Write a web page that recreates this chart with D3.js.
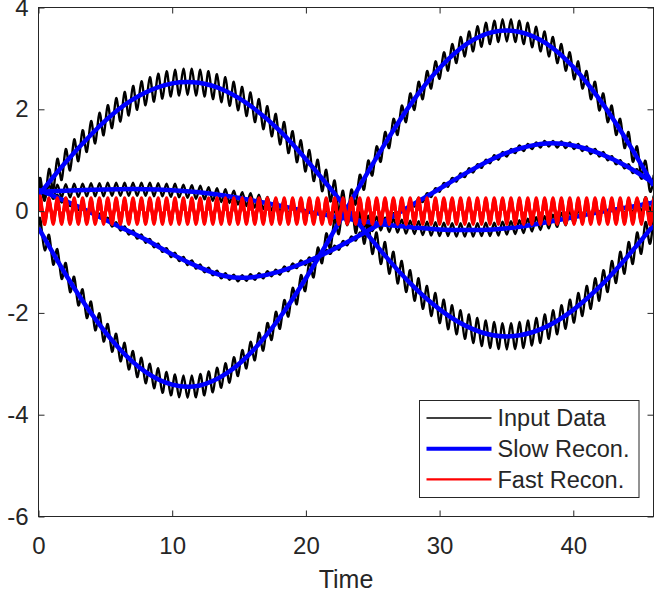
<!DOCTYPE html>
<html>
<head>
<meta charset="utf-8">
<script src="https://cdn.jsdelivr.net/npm/d3@7"></script>
<style>
  body { margin: 0; background: #fff; }
  svg { display: block; }
  text { font-family: "Liberation Sans", Arial, Helvetica, sans-serif; fill: #262626; }
</style>
</head>
<body>
<svg id="chart" width="654" height="599"></svg>
<script>
// sample times of the fast oscillation (peaks and troughs)
const time = [0,0.16,0.47,0.79,1.10,1.41,1.73,2.04,2.36,2.67,2.98,3.30,3.61,3.93,4.24,4.56,4.87,5.18,5.50,5.81,6.13,
  6.44,6.75,7.07,7.38,7.70,8.01,8.33,8.64,8.95,9.27,9.58,9.90,10.21,10.52,10.84,11.15,11.47,11.78,12.10,12.41,
  12.72,13.04,13.35,13.67,13.98,14.29,14.61,14.92,15.24,15.55,15.86,16.18,16.49,16.81,17.12,17.44,17.75,18.06,18.38,18.69,
  19.01,19.32,19.63,19.95,20.26,20.58,20.89,21.21,21.52,21.83,22.15,22.46,22.78,23.09,23.40,23.72,24.03,24.35,24.66,24.97,
  25.29,25.60,25.92,26.23,26.55,26.86,27.17,27.49,27.80,28.12,28.43,28.74,29.06,29.37,29.69,30.00,30.32,30.63,30.94,31.26,
  31.57,31.89,32.20,32.51,32.83,33.14,33.46,33.77,34.09,34.40,34.71,35.03,35.34,35.66,35.97,36.28,36.60,36.91,37.23,37.54,
  37.86,38.17,38.48,38.80,39.11,39.43,39.74,40.06,40.37,40.68,41.00,41.31,41.63,41.94,42.25,42.57,42.88,43.20,43.51,43.83,
  44.14,44.45,44.77,45.08,45.40,45.71,46.02];

// input data, four signals
const inputA = [0.31,
  0.63,0.21,0.83,0.41,1.03,0.61,1.22,0.80,1.41,0.98,1.59,1.16,1.77,1.33,1.93,1.49,2.08,1.63,2.22,1.76,
  2.34,1.88,2.46,1.99,2.55,2.08,2.63,2.15,2.70,2.21,2.75,2.25,2.78,2.27,2.80,2.28,2.80,2.27,2.78,2.25,
  2.75,2.20,2.69,2.14,2.63,2.07,2.54,1.98,2.44,1.87,2.33,1.75,2.20,1.61,2.06,1.47,1.91,1.31,1.75,1.14,
  1.57,0.96,1.39,0.78,1.20,0.59,1.01,0.39,0.81,0.19,0.60,-0.02,0.40,-0.23,0.19,-0.43,-0.02,-0.64,-0.22,-0.84,
  -0.42,-1.04,-0.61,-1.23,-0.80,-1.42,-0.98,-1.59,-1.16,-1.76,-1.32,-1.92,-1.47,-2.06,-1.61,-2.20,-1.74,-2.32,-1.85,-2.42,
  -1.95,-2.51,-2.03,-2.59,-2.10,-2.65,-2.15,-2.69,-2.18,-2.71,-2.20,-2.72,-2.20,-2.71,-2.18,-2.69,-2.15,-2.64,-2.10,-2.59,
  -2.03,-2.51,-1.95,-2.42,-1.85,-2.31,-1.74,-2.19,-1.61,-2.06,-1.47,-1.92,-1.32,-1.76,-1.16,-1.59,-0.98,-1.41,-0.80,-1.23,
  -0.61,-1.04,-0.42,-0.84,-0.22,-0.64,-0.01];
const inputB = [-0.33,
  -0.19,-0.77,-0.47,-1.05,-0.75,-1.33,-1.02,-1.59,-1.29,-1.85,-1.54,-2.10,-1.78,-2.34,-2.01,-2.56,-2.22,-2.76,-2.41,-2.95,
  -2.59,-3.11,-2.75,-3.26,-2.88,-3.38,-3.00,-3.48,-3.09,-3.57,-3.16,-3.62,-3.21,-3.66,-3.23,-3.67,-3.23,-3.66,-3.20,-3.62,
  -3.15,-3.56,-3.08,-3.47,-2.99,-3.37,-2.87,-3.24,-2.73,-3.09,-2.57,-2.93,-2.39,-2.74,-2.20,-2.53,-1.98,-2.31,-1.75,-2.07,
  -1.51,-1.83,-1.26,-1.57,-0.99,-1.30,-0.72,-1.02,-0.44,-0.74,-0.15,-0.45,0.13,-0.16,0.42,0.13,0.71,0.42,0.99,0.70,
  1.27,0.97,1.55,1.24,1.81,1.50,2.07,1.75,2.31,1.99,2.54,2.20,2.75,2.41,2.94,2.60,3.12,2.76,3.28,2.91,
  3.42,3.04,3.53,3.14,3.63,3.23,3.70,3.28,3.74,3.32,3.77,3.33,3.77,3.32,3.74,3.28,3.70,3.22,3.62,3.14,
  3.53,3.04,3.42,2.91,3.28,2.76,3.12,2.59,2.94,2.41,2.75,2.20,2.54,1.98,2.31,1.75,2.07,1.50,1.81,1.24,
  1.55,0.97,1.27,0.70,0.99,0.41,0.71];
const inputC = [0.38,
  0.51,0.25,0.52,0.26,0.52,0.27,0.53,0.27,0.54,0.28,0.54,0.29,0.55,0.29,0.55,0.29,0.56,0.30,0.56,0.30,
  0.56,0.30,0.56,0.30,0.56,0.30,0.56,0.29,0.55,0.29,0.54,0.28,0.54,0.27,0.52,0.26,0.51,0.24,0.50,0.23,
  0.47,0.20,0.45,0.18,0.43,0.16,0.40,0.13,0.37,0.10,0.35,0.07,0.32,0.04,0.28,0.01,0.25,-0.02,0.22,-0.06,
  0.18,-0.09,0.15,-0.13,0.12,-0.16,0.09,-0.19,0.05,-0.22,0.02,-0.25,0.00,-0.28,-0.03,-0.31,-0.06,-0.33,-0.09,-0.36,
  -0.11,-0.38,-0.14,-0.41,-0.15,-0.42,-0.17,-0.44,-0.19,-0.45,-0.20,-0.47,-0.21,-0.48,-0.22,-0.49,-0.23,-0.49,-0.24,-0.50,
  -0.24,-0.50,-0.24,-0.50,-0.24,-0.49,-0.23,-0.49,-0.23,-0.48,-0.21,-0.46,-0.20,-0.45,-0.18,-0.43,-0.15,-0.40,-0.12,-0.37,
  -0.10,-0.34,-0.07,-0.31,-0.03,-0.28,0.00,-0.25,0.03,-0.22,0.06,-0.18,0.09,-0.15,0.12,-0.12,0.15,-0.10,0.18,-0.07,
  0.21,-0.04,0.24,-0.01,0.27,0.03,0.30];
const inputD = [0.42,
  0.46,0.31,0.39,0.24,0.32,0.17,0.26,0.10,0.18,0.02,0.10,-0.05,0.03,-0.13,-0.05,-0.21,-0.13,-0.30,-0.22,-0.38,
  -0.30,-0.46,-0.38,-0.54,-0.46,-0.62,-0.55,-0.71,-0.64,-0.80,-0.73,-0.90,-0.82,-0.98,-0.90,-1.06,-0.97,-1.13,-1.05,-1.20,
  -1.11,-1.26,-1.17,-1.32,-1.22,-1.35,-1.25,-1.38,-1.26,-1.37,-1.24,-1.35,-1.22,-1.32,-1.18,-1.28,-1.15,-1.25,-1.09,-1.18,
  -1.03,-1.12,-0.97,-1.06,-0.91,-0.99,-0.83,-0.91,-0.76,-0.84,-0.68,-0.76,-0.59,-0.67,-0.50,-0.58,-0.42,-0.49,-0.32,-0.39,
  -0.23,-0.30,-0.13,-0.20,-0.04,-0.11,0.06,-0.01,0.16,0.09,0.26,0.18,0.35,0.28,0.45,0.38,0.55,0.48,0.65,0.58,
  0.74,0.67,0.84,0.76,0.92,0.85,1.01,0.94,1.10,1.01,1.16,1.07,1.22,1.14,1.29,1.18,1.32,1.22,1.35,1.25,
  1.38,1.27,1.38,1.25,1.37,1.24,1.35,1.22,1.32,1.18,1.27,1.12,1.22,1.07,1.16,1.00,1.08,0.92,1.00,0.84,
  0.92,0.75,0.82,0.64,0.71,0.54,0.61];

// fast reconstruction, same sample times
const fastA = [0,
  0.26,-0.26,0.26,-0.26,0.26,-0.26,0.26,-0.26,0.26,-0.26,0.26,-0.26,0.26,-0.26,0.26,-0.26,0.26,-0.26,0.26,-0.26,
  0.26,-0.26,0.26,-0.26,0.26,-0.26,0.26,-0.26,0.26,-0.26,0.26,-0.26,0.26,-0.26,0.26,-0.26,0.26,-0.26,0.26,-0.26,
  0.26,-0.26,0.26,-0.26,0.26,-0.26,0.26,-0.26,0.26,-0.26,0.26,-0.26,0.26,-0.26,0.26,-0.26,0.26,-0.26,0.26,-0.26,
  0.26,-0.26,0.26,-0.26,0.26,-0.26,0.26,-0.26,0.26,-0.26,0.26,-0.26,0.26,-0.26,0.26,-0.26,0.26,-0.26,0.26,-0.26,
  0.26,-0.26,0.26,-0.26,0.26,-0.26,0.26,-0.26,0.26,-0.26,0.26,-0.26,0.26,-0.26,0.26,-0.26,0.26,-0.26,0.26,-0.26,
  0.26,-0.26,0.26,-0.26,0.26,-0.26,0.26,-0.26,0.26,-0.26,0.26,-0.26,0.26,-0.26,0.26,-0.26,0.26,-0.26,0.26,-0.26,
  0.26,-0.26,0.26,-0.26,0.26,-0.26,0.26,-0.26,0.26,-0.26,0.26,-0.26,0.26,-0.26,0.26,-0.26,0.26,-0.26,0.26,-0.26,
  0.26,-0.26,0.26,-0.26,0.26,-0.26,0.26];
const fastB = [0,
  0.22,-0.22,0.22,-0.22,0.22,-0.22,0.22,-0.22,0.22,-0.22,0.22,-0.22,0.22,-0.22,0.22,-0.22,0.22,-0.22,0.22,-0.22,
  0.22,-0.22,0.22,-0.22,0.22,-0.22,0.22,-0.22,0.22,-0.22,0.22,-0.22,0.22,-0.22,0.22,-0.22,0.22,-0.22,0.22,-0.22,
  0.22,-0.22,0.22,-0.22,0.22,-0.22,0.22,-0.22,0.22,-0.22,0.22,-0.22,0.22,-0.22,0.22,-0.22,0.22,-0.22,0.22,-0.22,
  0.22,-0.22,0.22,-0.22,0.22,-0.22,0.22,-0.22,0.22,-0.22,0.22,-0.22,0.22,-0.22,0.22,-0.22,0.22,-0.22,0.22,-0.22,
  0.22,-0.22,0.22,-0.22,0.22,-0.22,0.22,-0.22,0.22,-0.22,0.22,-0.22,0.22,-0.22,0.22,-0.22,0.22,-0.22,0.22,-0.22,
  0.22,-0.22,0.22,-0.22,0.22,-0.22,0.22,-0.22,0.22,-0.22,0.22,-0.22,0.22,-0.22,0.22,-0.22,0.22,-0.22,0.22,-0.22,
  0.22,-0.22,0.22,-0.22,0.22,-0.22,0.22,-0.22,0.22,-0.22,0.22,-0.22,0.22,-0.22,0.22,-0.22,0.22,-0.22,0.22,-0.22,
  0.22,-0.22,0.22,-0.22,0.22,-0.22,0.22];
const fastC = [0,
  0.13,-0.13,0.13,-0.13,0.13,-0.13,0.13,-0.13,0.13,-0.13,0.13,-0.13,0.13,-0.13,0.13,-0.13,0.13,-0.13,0.13,-0.13,
  0.13,-0.13,0.13,-0.13,0.13,-0.13,0.13,-0.13,0.13,-0.13,0.13,-0.13,0.13,-0.13,0.13,-0.13,0.13,-0.13,0.13,-0.13,
  0.13,-0.13,0.13,-0.13,0.13,-0.13,0.13,-0.13,0.13,-0.13,0.13,-0.13,0.13,-0.13,0.13,-0.13,0.13,-0.13,0.13,-0.13,
  0.13,-0.13,0.13,-0.13,0.13,-0.13,0.13,-0.13,0.13,-0.13,0.13,-0.13,0.13,-0.13,0.13,-0.13,0.13,-0.13,0.13,-0.13,
  0.13,-0.13,0.13,-0.13,0.13,-0.13,0.13,-0.13,0.13,-0.13,0.13,-0.13,0.13,-0.13,0.13,-0.13,0.13,-0.13,0.13,-0.13,
  0.13,-0.13,0.13,-0.13,0.13,-0.13,0.13,-0.13,0.13,-0.13,0.13,-0.13,0.13,-0.13,0.13,-0.13,0.13,-0.13,0.13,-0.13,
  0.13,-0.13,0.13,-0.13,0.13,-0.13,0.13,-0.13,0.13,-0.13,0.13,-0.13,0.13,-0.13,0.13,-0.13,0.13,-0.13,0.13,-0.13,
  0.13,-0.13,0.13,-0.13,0.13,-0.13,0.13];
const fastD = [0,
  0.06,-0.06,0.06,-0.06,0.06,-0.06,0.06,-0.06,0.06,-0.06,0.06,-0.06,0.06,-0.06,0.06,-0.06,0.06,-0.06,0.06,-0.06,
  0.06,-0.06,0.06,-0.06,0.06,-0.06,0.06,-0.06,0.06,-0.06,0.06,-0.06,0.06,-0.06,0.06,-0.06,0.06,-0.06,0.06,-0.06,
  0.06,-0.06,0.06,-0.06,0.06,-0.06,0.06,-0.06,0.06,-0.06,0.06,-0.06,0.06,-0.06,0.06,-0.06,0.06,-0.06,0.06,-0.06,
  0.06,-0.06,0.06,-0.06,0.06,-0.06,0.06,-0.06,0.06,-0.06,0.06,-0.06,0.06,-0.06,0.06,-0.06,0.06,-0.06,0.06,-0.06,
  0.06,-0.06,0.06,-0.06,0.06,-0.06,0.06,-0.06,0.06,-0.06,0.06,-0.06,0.06,-0.06,0.06,-0.06,0.06,-0.06,0.06,-0.06,
  0.06,-0.06,0.06,-0.06,0.06,-0.06,0.06,-0.06,0.06,-0.06,0.06,-0.06,0.06,-0.06,0.06,-0.06,0.06,-0.06,0.06,-0.06,
  0.06,-0.06,0.06,-0.06,0.06,-0.06,0.06,-0.06,0.06,-0.06,0.06,-0.06,0.06,-0.06,0.06,-0.06,0.06,-0.06,0.06,-0.06,
  0.06,-0.06,0.06,-0.06,0.06,-0.06,0.06];

// slow reconstruction, coarser sampling
const slowTime = [0,2,4,6,8,10,12,14,16,18,20,22,24,26,28,30,32,34,36,38,40,42,44,46];
const slowA = [0.31,0.95,1.52,2.00,2.33,2.51,2.52,2.36,2.04,1.59,1.02,0.39,-0.26,-0.90,-1.47,-1.93,-2.26,-2.44,-2.44,-2.27,-1.94,-1.48,-0.91,-0.28];
const slowB = [-0.33,-1.23,-2.03,-2.69,-3.16,-3.41,-3.43,-3.20,-2.75,-2.11,-1.32,-0.44,0.48,1.36,2.16,2.81,3.28,3.52,3.52,3.29,2.83,2.18,1.39,0.50];
const slowC = [0.38,0.40,0.42,0.43,0.43,0.41,0.37,0.30,0.21,0.11,0.00,-0.10,-0.19,-0.27,-0.32,-0.36,-0.37,-0.36,-0.31,-0.22,-0.12,-0.02,0.07,0.17];
const slowD = [0.42,0.20,-0.04,-0.30,-0.56,-0.85,-1.10,-1.28,-1.30,-1.19,-1.00,-0.76,-0.48,-0.18,0.13,0.44,0.75,1.03,1.23,1.33,1.29,1.13,0.88,0.55];

const xTicks = [0, 10, 20, 30, 40];
const yTicks = [-6, -4, -2, 0, 2, 4];
const legendLabels = ["Input Data", "Slow Recon.", "Fast Recon."];

const svg = d3.select("#chart");
const axisColor = "#262626";

const x = d3.scaleLinear().domain([0, 46]).range([38.5, 653.5]);
const y = d3.scaleLinear().domain([-6, 4]).range([516.5, 7.5]);

function pairs(ts, vs) {
  let n = Math.min(ts.length, vs.length);
  let out = [];
  for (let i = 0; i < n; i++) out.push([ts[i], vs[i]]);
  return out;
}

svg.append("defs").append("clipPath").attr("id", "plotclip")
  .append("rect")
  .attr("x", x(0)).attr("y", y(4))
  .attr("width", x(46) - x(0)).attr("height", y(-6) - y(4));

let line = d3.line()
  .x(d => x(d[0]))
  .y(d => y(d[1]))
  .curve(d3.curveNatural);

let groups = [
  { color: "#000000", width: 2.4, data: [inputA, inputB, inputC, inputD].map(v => pairs(time, v)) },
  { color: "#0000ff", width: 4.5, data: [slowA, slowB, slowC, slowD].map(v => pairs(slowTime, v)) },
  { color: "#ff0000", width: 3.1, data: [fastA, fastB, fastC, fastD].map(v => pairs(time, v)) }
];

let plot = svg.append("g").attr("clip-path", "url(#plotclip)");
for (let g of groups) {
  for (let d of g.data) {
    plot.append("path")
      .attr("d", line(d))
      .attr("fill", "none")
      .attr("stroke", g.color)
      .attr("stroke-width", g.width)
      .attr("stroke-linejoin", "round");
  }
}

// box and inward ticks on all four sides, plain hyphen for negatives
let fmt = d => String(d);
function styleAxis(sel) {
  sel.select(".domain").remove();
  sel.selectAll(".tick line").attr("stroke", axisColor).attr("stroke-width", 1);
  sel.selectAll(".tick text").attr("fill", axisColor).style("font-size", "24px");
}

svg.append("g").attr("transform", `translate(0,${y(-6)})`)
  .call(d3.axisBottom(x).tickValues(xTicks).tickFormat(fmt).tickSize(-6).tickPadding(20))
  .call(styleAxis);
svg.append("g").attr("transform", `translate(0,${y(4)})`)
  .call(d3.axisTop(x).tickValues(xTicks).tickSize(-6).tickFormat(""))
  .call(styleAxis);
svg.append("g").attr("transform", `translate(${x(0)},0)`)
  .call(d3.axisLeft(y).tickValues(yTicks).tickFormat(fmt).tickSize(-6).tickPadding(10))
  .call(styleAxis);
svg.append("g").attr("transform", `translate(${x(46)},0)`)
  .call(d3.axisRight(y).tickValues(yTicks).tickSize(-6).tickFormat(""))
  .call(styleAxis);

svg.append("rect")
  .attr("x", x(0)).attr("y", y(4))
  .attr("width", x(46) - x(0)).attr("height", y(-6) - y(4))
  .attr("fill", "none").attr("stroke", axisColor).attr("stroke-width", 1);

svg.append("text")
  .attr("x", (x(0) + x(46)) / 2).attr("y", 588)
  .attr("text-anchor", "middle")
  .style("font-size", "25px")
  .text("Time");

// legend
let lg = svg.append("g");
lg.append("rect")
  .attr("x", 419.5).attr("y", 400.5).attr("width", 219.5).attr("height", 97)
  .attr("fill", "#fff").attr("stroke", axisColor).attr("stroke-width", 1);
let legendColors = ["#000000", "#0000ff", "#ff0000"];
let legendWidths = [1.5, 4, 2.2];
legendLabels.forEach((lab, i) => {
  let yy = 418 + i * 30.7;
  lg.append("line")
    .attr("x1", 426.5).attr("x2", 491.5).attr("y1", yy).attr("y2", yy)
    .attr("stroke", legendColors[i]).attr("stroke-width", legendWidths[i]);
  lg.append("text")
    .attr("x", 497.5).attr("y", yy).attr("dy", "0.35em")
    .style("font-size", "23.5px")
    .attr("fill", "#000")
    .text(lab);
});
</script>
</body>
</html>
